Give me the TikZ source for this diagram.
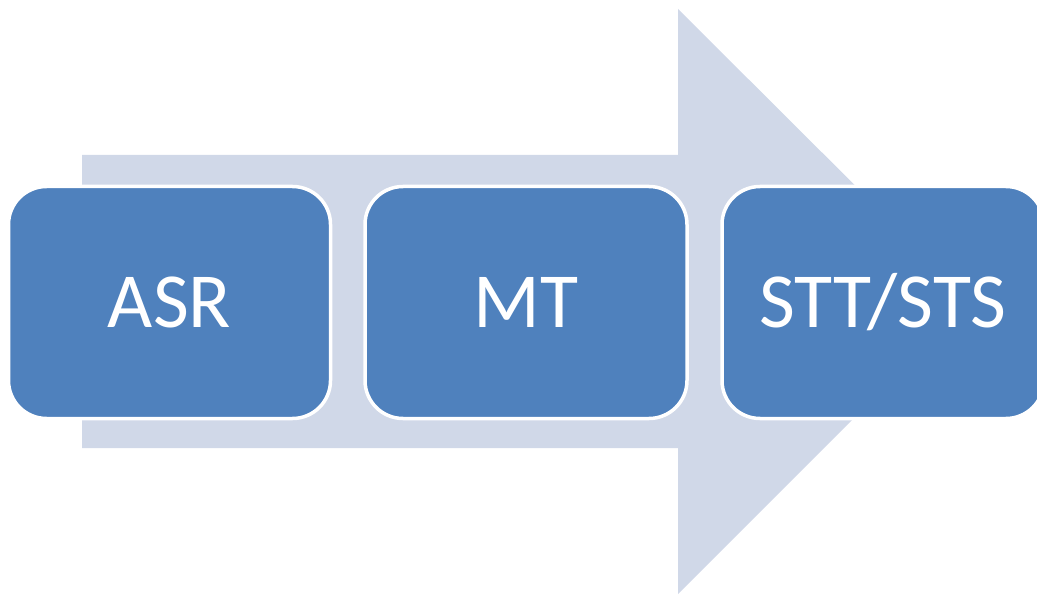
\documentclass[tikz,border=0pt]{standalone}
\usepackage{fontspec}
\setmainfont{Carlito}
\definecolor{arrowfill}{HTML}{D0D8E8}
\definecolor{stagefill}{HTML}{4F81BD}
\tikzset{
  stage/.style={rectangle, rounded corners=38pt, fill=stagefill, draw=white,
    line width=3.5pt, minimum width=322pt, minimum height=232pt,
    text=white, font=\fontsize{78}{82}\selectfont, inner sep=0pt},
}
\begin{document}
\begin{tikzpicture}[x=1pt,y=-1pt]
  \useasboundingbox (0,0) rectangle (1037,596);
  \clip (0,0) rectangle (1037,596);
  % background block arrow
  \fill[arrowfill] (82,155) -- (678,155) -- (678,9) -- (971,301)
    -- (678,594) -- (678,448) -- (82,448) -- cycle;
  % pipeline stages
  \node[stage] (asr) at (169.5,302.5) {ASR};
  \node[stage] (mt)  at (526,302.5) {MT};
  \node[stage] (stt) at (883,302.5) {STT/STS};
\end{tikzpicture}
\end{document}
